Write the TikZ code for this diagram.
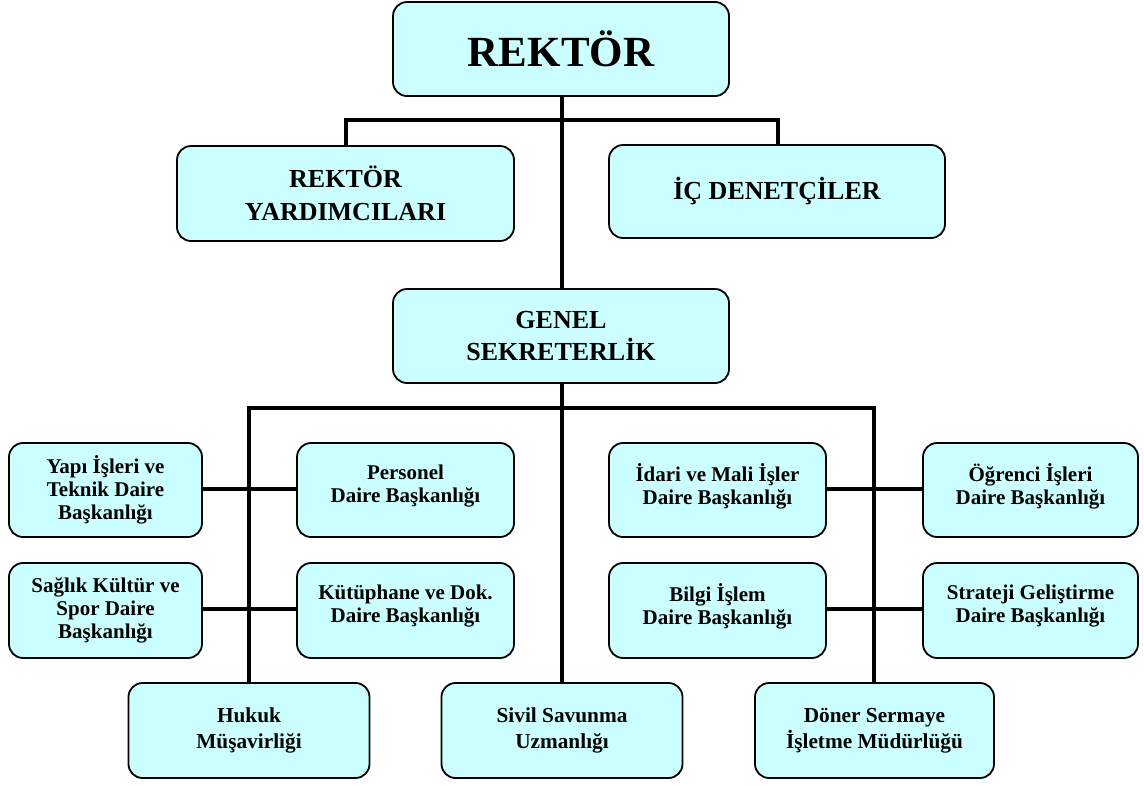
\documentclass[tikz,border=0pt]{standalone}
\usepackage{fontspec}
\setmainfont{Liberation Serif}
\definecolor{boxfill}{HTML}{CCFFFF}
\tikzset{
  box/.style={draw=black, line width=1.8pt, fill=boxfill, rounded corners=14pt,
    align=center, inner sep=0pt, font=\bfseries\fontsize{21}{23}\selectfont},
  twoline/.style={box, text depth=13pt},
  lowbox/.style={box, font=\bfseries\fontsize{21.3}{26}\selectfont},
  bigbox/.style={box, font=\bfseries\fontsize{26}{32.5}\selectfont},
  conn/.style={line width=4pt, draw=black},
}
\begin{document}
\begin{tikzpicture}[x=1pt, y=-1pt]
\useasboundingbox (0,0) rectangle (1144,785);
% top
\node[box, font=\bfseries\fontsize{43}{48}\selectfont, minimum width=336pt, minimum height=94pt] (rek) at (561,49) {REKTÖR};
\node[bigbox, minimum width=337pt, minimum height=95pt] (ryard) at (345.5,193.5) {REKTÖR\\YARDIMCILARI};
\node[bigbox, minimum width=336pt, minimum height=93pt] (ic) at (777,191.5) {İÇ DENETÇİLER};
\node[bigbox, minimum width=336pt, minimum height=94pt] (gen) at (561,336) {GENEL\\SEKRETERLİK};
% middle rows
\node[box, minimum width=193pt, minimum height=94pt] (yapi) at (105.5,490) {Yapı İşleri ve\\Teknik Daire\\Başkanlığı};
\node[twoline, minimum width=217pt, minimum height=94pt] (pers) at (405.5,490) {Personel\\Daire Başkanlığı};
\node[twoline, minimum width=217pt, minimum height=94pt] (idari) at (717.5,490) {İdari ve Mali İşler\\Daire Başkanlığı};
\node[twoline, minimum width=215pt, minimum height=94pt] (ogr) at (1030.5,490) {Öğrenci İşleri\\Daire Başkanlığı};
\node[box, minimum width=193pt, minimum height=95pt] (saglik) at (105.5,610.5) {Sağlık Kültür ve\\Spor Daire\\Başkanlığı};
\node[twoline, minimum width=217pt, minimum height=95pt] (kut) at (405.5,610.5) {Kütüphane ve Dok.\\Daire Başkanlığı};
\node[twoline, minimum width=217pt, minimum height=95pt] (bilgi) at (717.5,610.5) {Bilgi İşlem\\Daire Başkanlığı};
\node[twoline, minimum width=215pt, minimum height=95pt] (strat) at (1030.5,610.5) {Strateji Geliştirme\\Daire Başkanlığı};
% bottom row
\node[lowbox, minimum width=241pt, minimum height=95pt] (hukuk) at (249,730.5) {Hukuk\\Müşavirliği};
\node[lowbox, minimum width=241pt, minimum height=95pt] (sivil) at (562,730.5) {Sivil Savunma\\Uzmanlığı};
\node[lowbox, minimum width=239pt, minimum height=95pt] (doner) at (874.5,730.5) {Döner Sermaye\\İşletme Müdürlüğü};
% junction coordinates
\coordinate (t1) at (346,120);
\coordinate (t2) at (778,120);
\coordinate (m1) at (249,408);
\coordinate (m2) at (874,408);
% connectors
\draw[conn] (rek.south -| 562,0) -- (gen.north -| 562,0);
\draw[conn] (ryard.north -| t1) -- (t1) -- (t2) -- (ic.north -| t2);
\draw[conn] (gen.south -| 562,0) -- (sivil.north -| 562,0);
\draw[conn] (hukuk.north) -- (m1) -- (m2) -- (doner.north -| m2);
\draw[conn] (yapi.east |- 0,489) -- (pers.west |- 0,489);
\draw[conn] (saglik.east |- 0,609) -- (kut.west |- 0,609);
\draw[conn] (idari.east |- 0,489) -- (ogr.west |- 0,489);
\draw[conn] (bilgi.east |- 0,609) -- (strat.west |- 0,609);
\end{tikzpicture}
\end{document}
